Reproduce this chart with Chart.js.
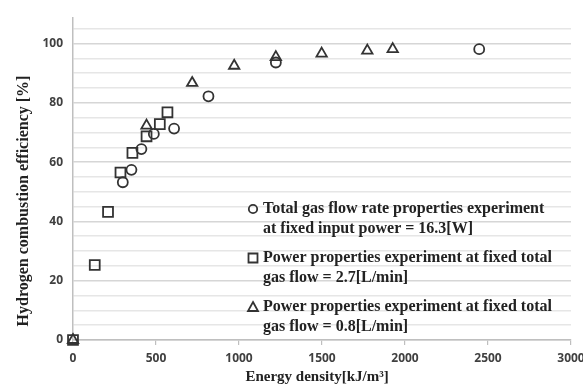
<!DOCTYPE html>
<html>
<head>
<meta charset="utf-8">
<script src="https://cdn.jsdelivr.net/npm/chart.js@4/dist/chart.umd.min.js"></script>
<style>
  html, body { margin: 0; padding: 0; background: #fff; }
</style>
</head>
<body>
<canvas id="chart" width="583" height="387"></canvas>
<script>
// data
const circleX = [300, 352, 412, 487, 609, 816, 1222, 2447];
const circleY = [53.2, 57.4, 64.4, 69.5, 71.3, 82.2, 93.6, 98.1];

const squareX = [0, 131, 211, 286, 358, 443, 523, 569];
const squareY = [0, 25.3, 43.2, 56.5, 63.1, 68.7, 72.8, 76.8];

const triangleX = [0, 443, 718, 971, 1222, 1498, 1773, 1926];
const triangleY = [0, 72.3, 86.7, 92.5, 95.4, 96.6, 97.6, 98.1];

const legendLines = [
  ["Total gas flow rate properties experiment", "at fixed input power = 16.3[W]"],
  ["Power properties experiment at fixed total", "gas flow = 2.7[L/min]"],
  ["Power properties experiment at fixed total", "gas flow = 0.8[L/min]"]
];
const xTitle = "Energy density[kJ/m\u00B3]";
const yTitle = "Hydrogen combustion efficiency [%]";

const ink = "#333333";
const serif = '"Liberation Serif", "Times New Roman", serif';
const tickFont = { family: '"Open Sans", sans-serif', size: 12, weight: "700" };

function toPoints(xs, ys) {
  return xs.map((x, i) => ({ x: x, y: ys[i] }));
}

function serie(label, xs, ys, style, radius) {
  return {
    label: label,
    data: toPoints(xs, ys),
    pointStyle: style,
    pointRadius: radius,
    pointHoverRadius: radius,
    pointBorderWidth: 1.8,
    borderColor: ink,
    backgroundColor: "rgba(0,0,0,0)",
    showLine: false,
    clip: false
  };
}

// axis titles + the legend (two lines per entry)
const extras = {
  id: "extras",
  afterDatasetsDraw(chart) {
    const c = chart.ctx;
    c.save();
    c.fillStyle = "#222";
    c.textBaseline = "middle";

    c.font = "bold 15px " + serif;
    c.textAlign = "center";
    c.fillText(xTitle, 317, 377);

    c.font = "bold 16px " + serif;
    c.save();
    c.translate(24, 201);
    c.rotate(-Math.PI / 2);
    c.fillText(yTitle, 0, 0);
    c.restore();

    c.textAlign = "left";
    const styles = ["circle", "rect", "triangle"];
    legendLines.forEach((lines, i) => {
      const y0 = 209 + i * 49;
      c.fillText(lines[0], 263, y0);
      c.fillText(lines[1], 263, y0 + 20);
      c.strokeStyle = ink;
      c.lineWidth = 1.8;
      c.beginPath();
      if (styles[i] === "circle") {
        c.arc(253, y0, 4.2, 0, Math.PI * 2);
      } else if (styles[i] === "rect") {
        c.rect(248.5, y0 - 4.5, 9, 9);
      } else {
        c.moveTo(253, y0 - 5);
        c.lineTo(258, y0 + 4);
        c.lineTo(248, y0 + 4);
        c.closePath();
      }
      c.stroke();
    });
    c.restore();
  }
};

new Chart(document.getElementById("chart"), {
  type: "scatter",
  data: {
    datasets: [
      serie(legendLines[0].join(" "), circleX, circleY, "circle", 5),
      serie(legendLines[1].join(" "), squareX, squareY, "rect", 7),
      serie(legendLines[2].join(" "), triangleX, triangleY, "triangle", 6)
    ]
  },
  options: {
    responsive: false,
    animation: false,
    layout: { padding: { top: 18, right: 12, left: 0, bottom: 0 } },
    plugins: {
      legend: { display: false },
      tooltip: { enabled: false }
    },
    scales: {
      x: {
        type: "linear",
        min: 0,
        max: 3000,
        ticks: {
          stepSize: 500,
          padding: 6,
          color: "#404040",
          font: tickFont,
          maxRotation: 0,
          callback: (v) => String(v)
        },
        grid: {
          drawOnChartArea: false,
          drawTicks: true,
          tickLength: 5,
          color: "#bfbfbf",
          lineWidth: 1.2
        },
        border: { color: "#bfbfbf", width: 1.5 },
        afterFit(scale) {
          scale.height = 47;
          scale.paddingLeft = 0;
          scale.paddingRight = 0;
        }
      },
      y: {
        min: 0,
        max: 108.6,
        ticks: {
          stepSize: 5,
          includeBounds: false,
          autoSkip: false,
          padding: 10,
          color: "#404040",
          font: tickFont,
          callback: (v) => (v % 20 === 0 ? String(v) : "")
        },
        grid: {
          drawTicks: false,
          color: (ctx) => (ctx.tick && ctx.tick.value % 20 === 0 ? "#d6d6d6" : "#e6e6e6"),
          lineWidth: 1.5
        },
        border: { color: "#bfbfbf", width: 1.5 },
        afterFit(scale) {
          scale.width = 73;
          scale.paddingTop = 0;
          scale.paddingBottom = 0;
        }
      }
    }
  },
  plugins: [extras]
});
</script>
</body>
</html>
